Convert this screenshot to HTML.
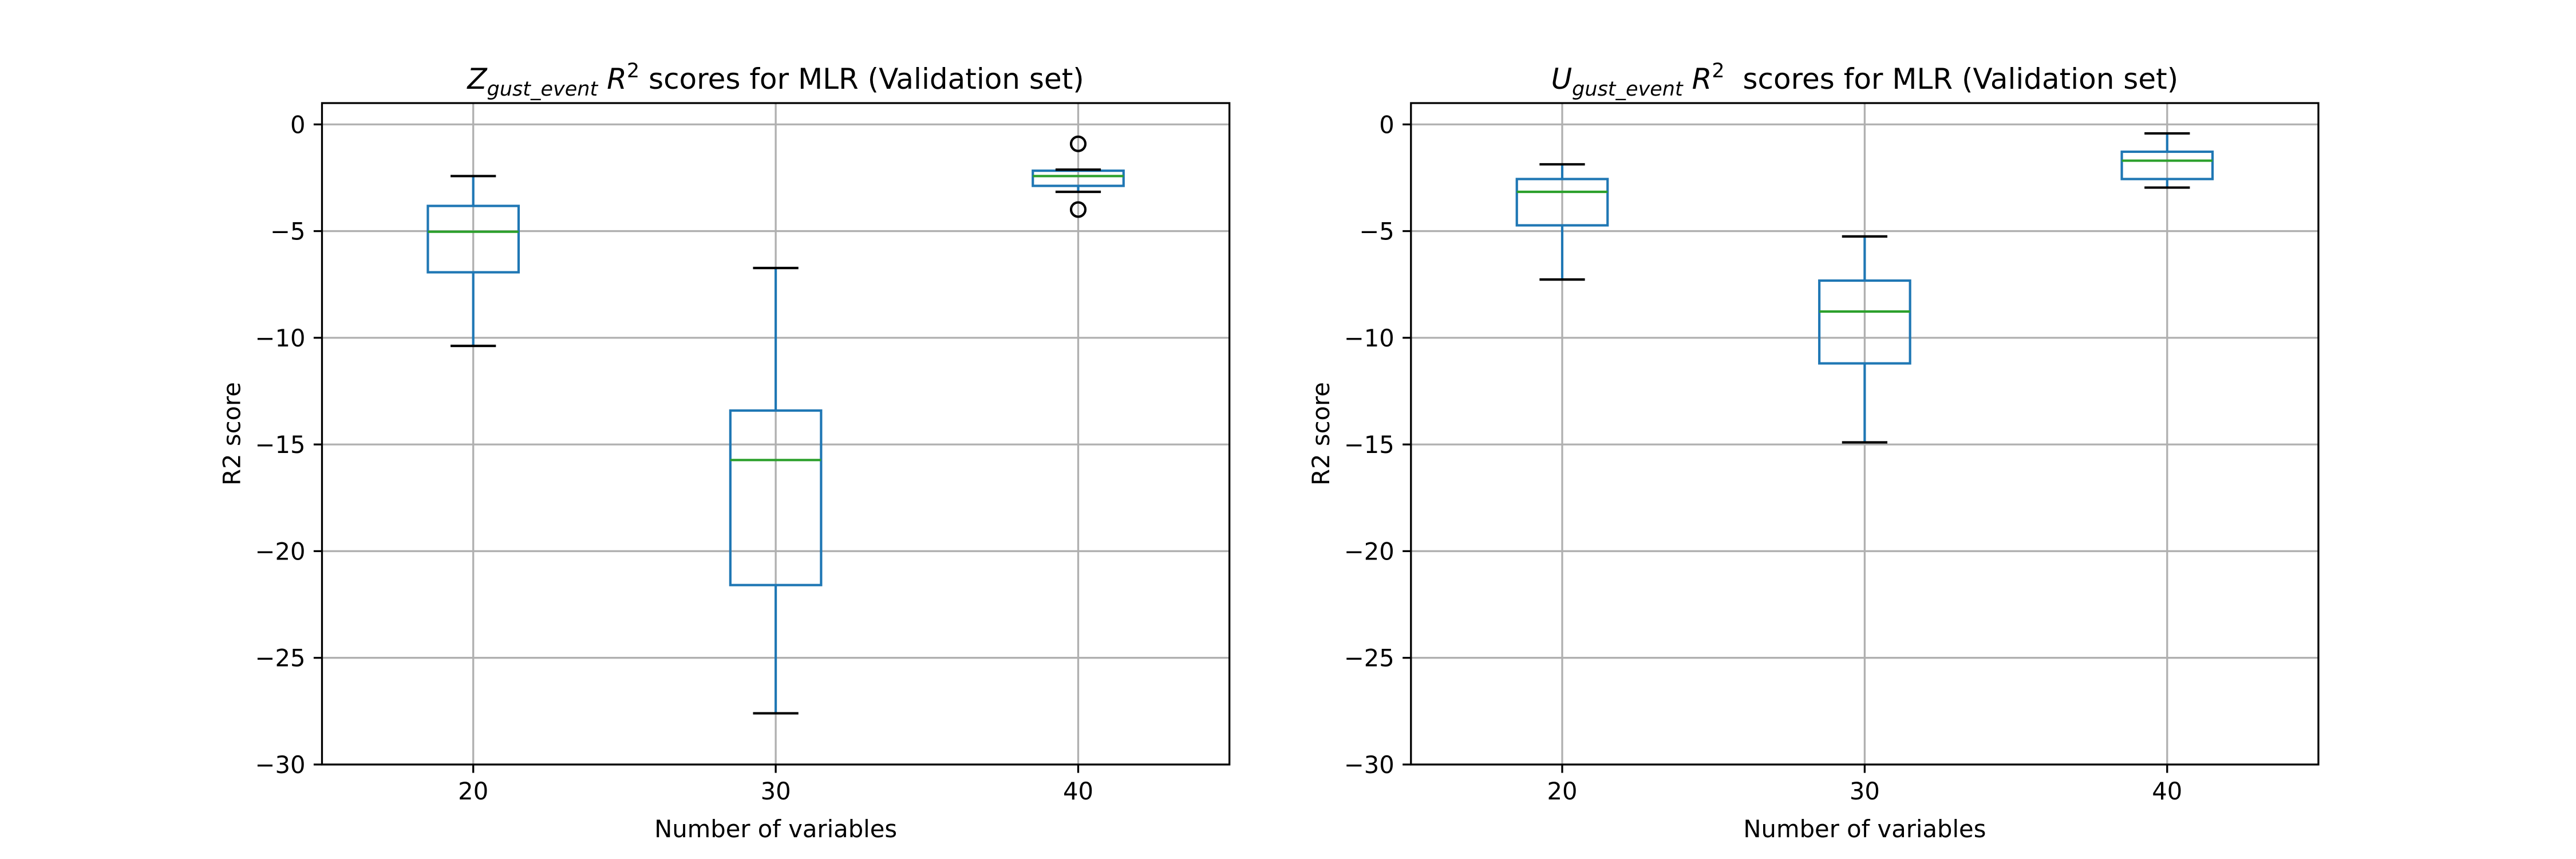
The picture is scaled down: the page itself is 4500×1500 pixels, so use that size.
<!DOCTYPE html>
<html><head><meta charset="utf-8"><style>
html,body{margin:0;padding:0;background:#fff;}
svg{display:block;font-family:"DejaVu Sans","Liberation Sans",sans-serif;}
</style></head><body>
<svg id="fig" width="4500" height="1500" viewBox="0 0 4500 1500" xmlns="http://www.w3.org/2000/svg">
<rect width="4500" height="1500" fill="#fff"/>
</svg>
<script>
const categories = [20, 30, 40];
const yTicks = [0, -5, -10, -15, -20, -25, -30];
const xTickLabels = ["20", "30", "40"];
// [whiskerLow, Q1, median, Q3, whiskerHigh]
const zStats20 = [-10.38, -6.93, -5.03, -3.82, -2.42];
const zStats30 = [-27.6, -21.59, -15.73, -13.41, -6.73];
const zStats40 = [-3.16, -2.88, -2.42, -2.17, -2.12];
const zOutliers40 = [-0.91, -3.99];
const uStats20 = [-7.27, -4.73, -3.16, -2.56, -1.87];
const uStats30 = [-14.9, -11.2, -8.77, -7.32, -5.25];
const uStats40 = [-2.96, -2.56, -1.7, -1.28, -0.42];
const uOutliers40 = [];

const NS = "http://www.w3.org/2000/svg";
const svg = document.getElementById('fig');
function el(tag, attrs, parent){const e=document.createElementNS(NS,tag);for(const k in attrs)e.setAttribute(k,attrs[k]);(parent||svg).appendChild(e);return e;}

function panel(x0, x1, prefix, titleMain, statsList, outliersList, titleSp){
  const y0 = 180, y1 = 1335;
  const xs = v => x0 + (v - 15) / 30 * (x1 - x0);
  const ys = v => y0 + (1 - v) / 31 * (y1 - y0);
  const g = el('g', {});
  
  
  yTicks.forEach(t => {
    const l = el('line', {x1:x0, x2:x1, y1:ys(t), y2:ys(t), stroke:'#b0b0b0', 'stroke-width':3.3}, g);
    
    
  });
  categories.forEach(c => {
    const l = el('line', {x1:xs(c), x2:xs(c), y1:y0, y2:y1, stroke:'#b0b0b0', 'stroke-width':3.3}, g);
    
    
  });
  categories.forEach((c, i) => {
    const s = statsList[i];
    const cx = xs(c), hw = (xs(1.5) - xs(0)), cw = (xs(0.75) - xs(0));
    const bg = el('g', {}, g);
    
    
    el('line', {x1:cx, x2:cx, y1:ys(s[0]), y2:ys(s[1]), stroke:'#1f77b4', 'stroke-width':4.17}, bg);
    el('line', {x1:cx, x2:cx, y1:ys(s[3]), y2:ys(s[4]), stroke:'#1f77b4', 'stroke-width':4.17}, bg);
    el('rect', {x:cx-hw, y:ys(s[3]), width:2*hw, height:ys(s[1])-ys(s[3]), fill:'none', stroke:'#1f77b4', 'stroke-width':4.17}, bg);
    el('line', {x1:cx-hw, x2:cx+hw, y1:ys(s[2]), y2:ys(s[2]), stroke:'#2ca02c', 'stroke-width':4.17}, bg);
    el('line', {x1:cx-cw, x2:cx+cw, y1:ys(s[0]), y2:ys(s[0]), stroke:'#000', 'stroke-width':4.17}, bg);
    el('line', {x1:cx-cw, x2:cx+cw, y1:ys(s[4]), y2:ys(s[4]), stroke:'#000', 'stroke-width':4.17}, bg);
    (outliersList[i] || []).forEach(o => {
      const p = el('circle', {cx:cx, cy:ys(o), r:12.5, fill:'none', stroke:'#000', 'stroke-width':4.17}, bg);
      
      
    });
  });
  const fr = el('rect', {x:x0, y:y0, width:x1-x0, height:y1-y0, fill:'none', stroke:'#000', 'stroke-width':3.3}, g);
  
  
  yTicks.forEach(t => {
    el('line', {x1:x0-14.6, x2:x0, y1:ys(t), y2:ys(t), stroke:'#000', 'stroke-width':3.3}, g);
    const tx = el('text', {x:x0-29, y:ys(t)+15, 'font-size':41.7, 'text-anchor':'end', fill:'#000'}, g);
    tx.textContent = String(t).replace('-', '\u2212');
    
    
  });
  categories.forEach((c, i) => {
    el('line', {x1:xs(c), x2:xs(c), y1:y1, y2:y1+14.6, stroke:'#000', 'stroke-width':3.3}, g);
    const tx = el('text', {x:xs(c), y:y1+61, 'font-size':41.7, 'text-anchor':'middle', fill:'#000'}, g);
    tx.textContent = xTickLabels[i];
    
    
  });
  const xl = el('text', {x:(x0+x1)/2, y:1462, 'font-size':41.7, 'text-anchor':'middle', fill:'#000'}, g);
  xl.textContent = 'Number of variables';
  
  
  const ylx = x0 - 143;
  const yl = el('text', {x:ylx, y:(y0+y1)/2, 'font-size':41.7, 'text-anchor':'middle', fill:'#000', transform:'rotate(-90 '+ylx+' '+((y0+y1)/2)+')'}, g);
  yl.textContent = 'R2 score';
  
  
  const tt = el('text', {x:(x0+x1)/2, y:155, 'font-size':50, 'text-anchor':'middle', fill:'#000'}, g);
  
  
  tt.innerHTML = '<tspan font-style="italic">' + titleMain + '</tspan><tspan font-style="italic" font-size="35" dy="12">gust_event</tspan><tspan dy="-12"> </tspan><tspan font-style="italic">R</tspan><tspan font-size="35" dy="-20">2</tspan><tspan dy="20">' + titleSp + 'scores for MLR (Validation set)</tspan>';
}
panel(562.5, 2147.7, 'z', 'Z', [zStats20, zStats30, zStats40], [[], [], zOutliers40], ' ');
panel(2464.8, 4050, 'u', 'U', [uStats20, uStats30, uStats40], [[], [], uOutliers40], '\u00a0 ');
</script>
</body></html>
